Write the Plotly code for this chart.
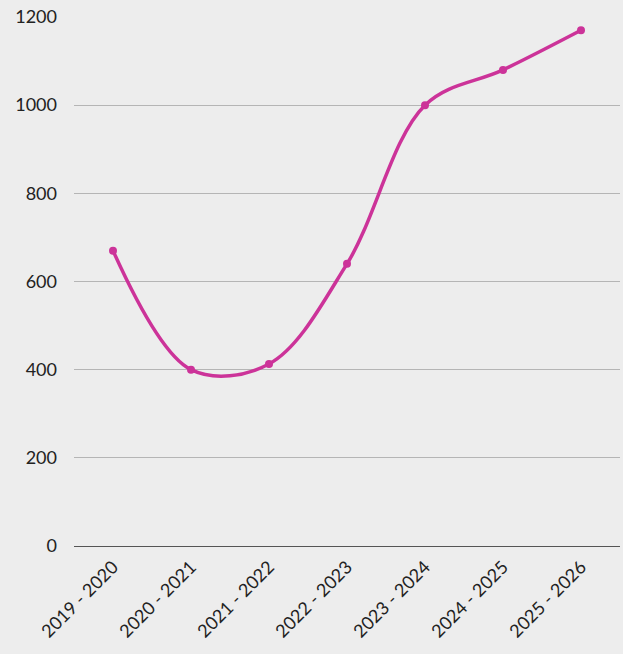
import plotly.graph_objects as go

categories = ["2019 - 2020", "2020 - 2021", "2021 - 2022", "2022 - 2023",
              "2023 - 2024", "2024 - 2025", "2025 - 2026"]
values = [670, 400, 413, 640, 1000, 1080, 1170]
y_ticks = [0, 200, 400, 600, 800, 1000, 1200]

fig = go.Figure()
fig.add_trace(go.Scatter(
    x=categories, y=values, mode="lines+markers",
    line=dict(color="#cc3399", width=3.5, shape="spline", smoothing=1),
    marker=dict(color="#cc3399", size=8),
    hoverinfo="skip", showlegend=False,
))

fig.update_layout(
    width=623, height=654,
    margin=dict(l=74, r=3, t=17, b=108),
    paper_bgcolor="#ededed", plot_bgcolor="#ededed",
    font=dict(family="Lato, sans-serif", size=18, color="#222222"),
    xaxis=dict(
        type="category", tickangle=-45, showgrid=False,
        showline=False, zeroline=False, ticks="",
        ticklabelstandoff=6,
        range=[-0.5, 6.5],
    ),
    yaxis=dict(
        range=[0, 1200], tickvals=y_ticks,
        showgrid=True, gridcolor="#b5b5b5", gridwidth=1,
        zeroline=True, zerolinecolor="#555555", zerolinewidth=1,
        ticks="", ticklabelstandoff=16, showline=False,
    ),
)

fig.write_html(
    "out.html",
    config={"displayModeBar": False, "staticPlot": True},
    post_script="document.body.style.margin='0';document.body.style.background='#ededed';",
)
